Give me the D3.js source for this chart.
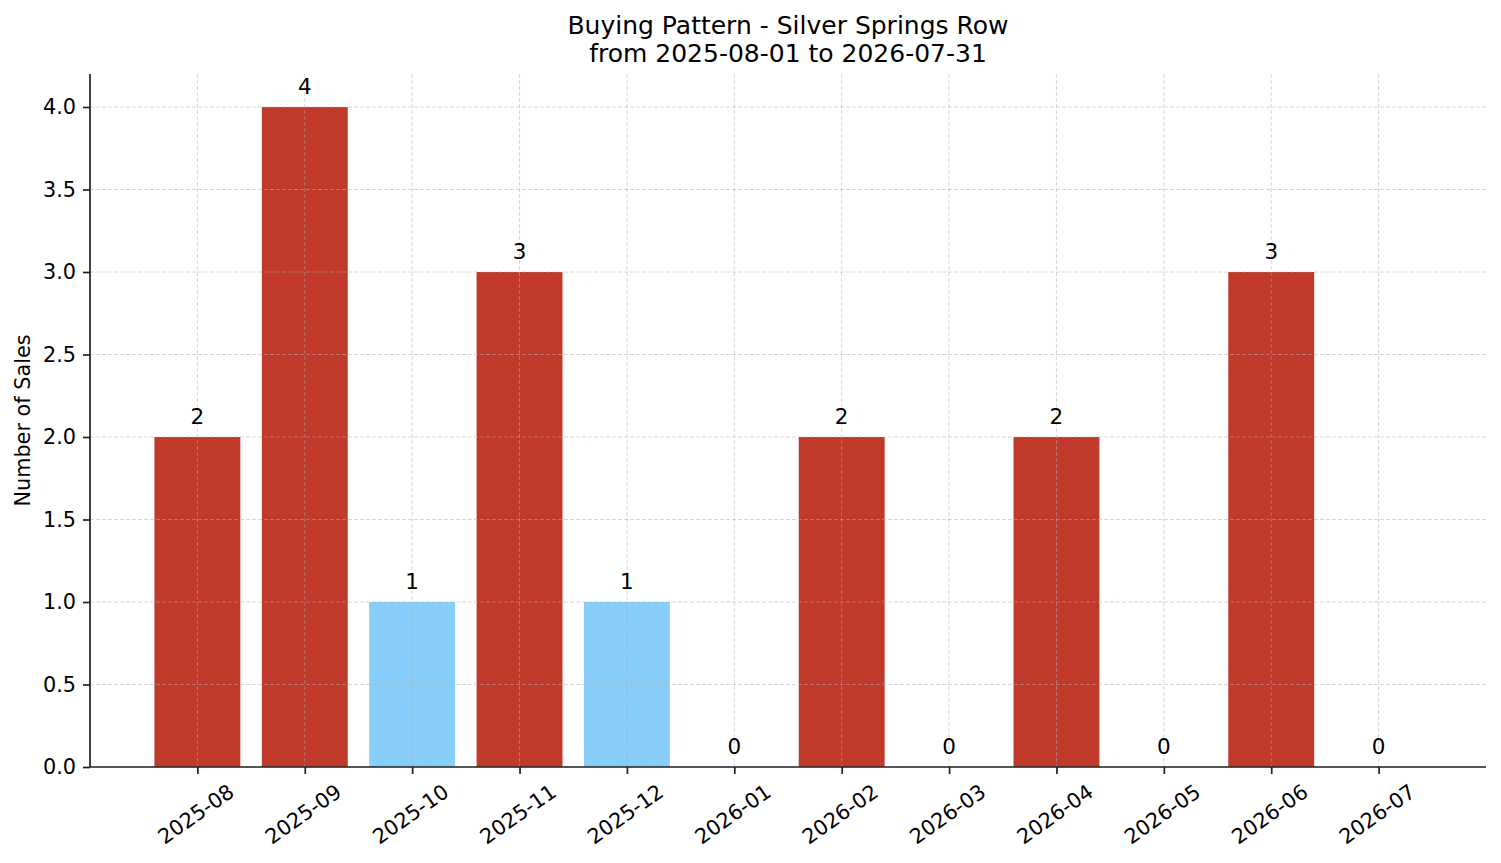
<!DOCTYPE html>
<html>
<head>
<meta charset="utf-8">
<script src="https://cdn.jsdelivr.net/npm/d3@7"></script>
<style>
  html, body { margin: 0; padding: 0; background: #fff; overflow: hidden; }
  svg { display: block; font-family: "DejaVu Sans", sans-serif; }
</style>
</head>
<body>
<svg></svg>
<script>
const months = ["2025-08","2025-09","2025-10","2025-11","2025-12","2026-01",
                "2026-02","2026-03","2026-04","2026-05","2026-06","2026-07"];
const sales = [2, 4, 1, 3, 1, 0, 2, 0, 2, 0, 3, 0];
const yTicks = [0, 0.5, 1, 1.5, 2, 2.5, 3, 3.5, 4];

const width = 1501, height = 863;
const svg = d3.select("svg").attr("width", width).attr("height", height);

const margin = { top: 74, right: 15, bottom: 96, left: 90 };
const innerWidth = width - margin.left - margin.right;
const innerHeight = height - margin.top - margin.bottom;

const g = svg.append("g").attr("transform", `translate(${margin.left},${margin.top})`);

const xScale = d3.scaleLinear().domain([-1, months.length]).range([0, innerWidth]);
const yScale = d3.scaleLinear().domain([0, 4.2]).range([innerHeight, 0]);
const unit = xScale(1) - xScale(0);
const barW = unit * 0.8;

// months below the average are shown in light blue
const mean = d3.mean(sales);
const colour = v => v < mean ? "#87cefa" : "#c0392b";

// bars
g.selectAll("rect.bar").data(sales).enter().append("rect")
  .attr("class", "bar")
  .attr("x", (d, i) => xScale(i) - barW / 2)
  .attr("y", d => yScale(d))
  .attr("width", barW)
  .attr("height", d => innerHeight - yScale(d))
  .attr("fill", d => colour(d));

// grid (drawn over the bars like matplotlib)
const grid = g.append("g").attr("stroke", "#b0b0b0").attr("stroke-opacity", 0.5)
  .attr("stroke-width", 1).attr("stroke-dasharray", "4,2");
grid.selectAll("line.h").data(yTicks).enter().append("line")
  .attr("x1", 0).attr("x2", innerWidth)
  .attr("y1", d => yScale(d)).attr("y2", d => yScale(d));
grid.selectAll("line.v").data(months).enter().append("line")
  .attr("y1", 0).attr("y2", innerHeight)
  .attr("x1", (d, i) => xScale(i)).attr("x2", (d, i) => xScale(i));

// value labels
g.selectAll("text.val").data(sales).enter().append("text")
  .attr("x", (d, i) => xScale(i))
  .attr("y", d => yScale(d) - 13)
  .attr("text-anchor", "middle")
  .attr("font-size", 21.5)
  .attr("fill", "#000")
  .text(d => d);

// axes
const yAxis = d3.axisLeft(yScale).tickValues(yTicks).tickFormat(d3.format(".1f"))
  .tickSize(7).tickPadding(7);
const yg = g.append("g").call(yAxis);
const xAxis = d3.axisBottom(xScale).tickValues(d3.range(months.length))
  .tickFormat(i => months[i]).tickSize(7).tickPadding(7);
const xg = g.append("g").attr("transform", `translate(0,${innerHeight})`).call(xAxis);

[yg, xg].forEach(a => {
  a.select(".domain").attr("stroke", "#222").attr("stroke-width", 1.7);
  a.selectAll(".tick line").attr("stroke", "#222").attr("stroke-width", 1.7);
  a.selectAll(".tick text").attr("font-size", 20.8).attr("fill", "#000")
    .attr("font-family", "DejaVu Sans");
});
yg.select(".domain").attr("d", `M0,0V${innerHeight}`);
xg.select(".domain").attr("d", `M0,0H${innerWidth}`);

xg.selectAll(".tick text")
  .attr("text-anchor", "middle")
  .attr("dy", "0.35em")
  .attr("y", 0)
  .attr("transform", "translate(-2,47) rotate(-35)");

// y axis label
svg.append("text")
  .attr("transform", `translate(30,${margin.top + innerHeight / 2}) rotate(-90)`)
  .attr("text-anchor", "middle")
  .attr("font-size", 20.8)
  .text("Number of Sales");

// title
const title = svg.append("text")
  .attr("x", margin.left + innerWidth / 2)
  .attr("text-anchor", "middle")
  .attr("font-size", 25);
title.append("tspan").attr("x", margin.left + innerWidth / 2).attr("y", 34)
  .text("Buying Pattern - Silver Springs Row");
title.append("tspan").attr("x", margin.left + innerWidth / 2).attr("y", 62)
  .text("from 2025-08-01 to 2026-07-31");
</script>
</body>
</html>
